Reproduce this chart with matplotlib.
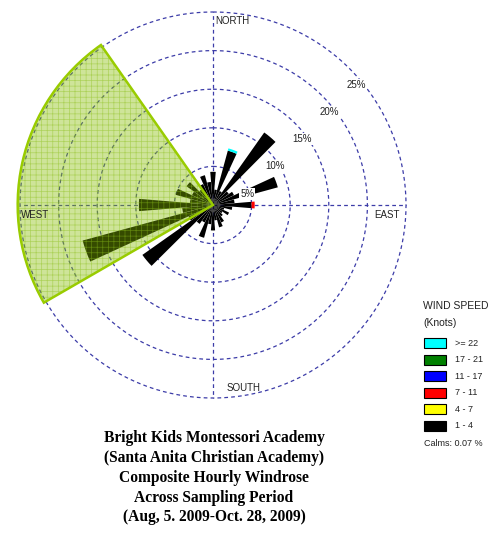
import numpy as np
import matplotlib.pyplot as plt
from matplotlib.patches import Rectangle
from matplotlib.transforms import offset_copy

# wind direction bins (degrees from north, clockwise)
directions = np.arange(0, 360, 10)

# frequency (%) per direction bin for each speed class
freq_1_4 = [4.3, 2.0, 7.3, 2.0, 11.5, 2.5, 3.0, 8.7, 2.8, 5.0,
            2.5, 1.5, 2.3, 1.5, 1.8, 2.5, 3.0, 2.0, 3.3, 2.5,
            4.4, 2.5, 3.0, 11.2, 3.5, 17.5, 4.0, 9.6, 3.0, 5.0,
            3.0, 4.2, 2.5, 3.0, 4.0, 3.0]
freq_4_7 = [0.0] * 36
freq_7_11 = [0.0] * 9 + [0.4] + [0.0] * 26
freq_11_17 = [0.0] * 36
freq_17_21 = [0.0] * 36
freq_22_up = [0.0, 0.0, 0.3] + [0.0] * 33

speed_labels = ['>= 22', '17 - 21', '11 - 17', '7 - 11', '4 - 7', '1 - 4']
speed_colors = ['#00ffff', '#008000', '#0000ff', '#ff0000', '#ffff00', '#000000']

ring_levels = [5, 10, 15, 20, 25]
ring_labels = ['5%', '10%', '15%', '20%', '25%']
compass = [(0, 'NORTH'), (90, 'EAST'), (180, 'SOUTH'), (270, 'WEST')]

# highlighted source sector
sector_from, sector_to, sector_reach = 240, 325, 25.3

calms = 0.07
title_lines = ['Bright Kids Montessori Academy',
               '(Santa Anita Christian Academy)',
               'Composite Hourly Windrose',
               'Across Sampling Period',
               '(Aug, 5. 2009-Oct. 28, 2009)']

W, H = 495, 540
fig = plt.figure(figsize=(W / 100, H / 100), dpi=100)
plt.rcParams['font.family'] = ['Liberation Sans', 'DejaVu Sans']


def px(x, y):
    return x / W, 1 - y / H


ax = fig.add_axes([20 / W, 142 / H, 386 / W, 386 / H], projection='polar')
ax.set_theta_zero_location('N')
ax.set_theta_direction(-1)
ax.set_ylim(0, 25)
ax.axis('off')

grid_color = '#3c3ca8'
dash = (0, (3, 2.5))
full = np.linspace(0, 2 * np.pi, 400)
for r in ring_levels:
    ax.plot(full, np.full_like(full, r), color=grid_color, lw=0.9, ls=dash,
            zorder=1, clip_on=False)
for ang, _ in compass:
    ax.plot([np.deg2rad(ang)] * 2, [0, ring_levels[-1]], color=grid_color,
            lw=0.9, ls=dash, zorder=1, clip_on=False)

# stacked petals, slowest class nearest the centre
theta = np.deg2rad(directions)
width = np.deg2rad(9.5)
stack = [freq_1_4, freq_4_7, freq_7_11, freq_11_17, freq_17_21, freq_22_up]
bottom = np.zeros(len(directions))
for vals, col in zip(stack, speed_colors[::-1]):
    vals = np.array(vals)
    ax.bar(theta, vals, width=width, bottom=bottom, color=col, lw=0, zorder=3)
    bottom += vals

# translucent sector with grid texture
mid = np.deg2rad((sector_from + sector_to) / 2)
span = np.deg2rad(sector_to - sector_from)
plt.rcParams['hatch.linewidth'] = 0.5
ax.bar(mid, sector_reach, width=span, bottom=0, color=(0.52, 0.74, 0.0, 0.4),
       lw=0, zorder=4, clip_on=False)
ax.bar(mid, sector_reach, width=span, bottom=0, facecolor='none',
       edgecolor=(0.55, 0.75, 0.1, 0.5), hatch='+++', lw=0, zorder=5, clip_on=False)
ax.bar(mid, sector_reach, width=span, bottom=0, fill=False,
       edgecolor='#99cc00', lw=1.8, zorder=6, clip_on=False)

# ring percentage labels on a white backing
for r, lab in zip(ring_levels, ring_labels):
    tr = offset_copy(ax.transData, fig=fig, x=7, y=-16, units='dots')
    ax.text(np.deg2rad(45), r, lab, transform=tr, ha='center', va='center',
            fontsize=7, color='#222222', zorder=7,
            bbox=dict(facecolor='white', edgecolor='none', pad=0.6))

# compass labels
label_offsets = {'NORTH': (2, -9, 'left'), 'EAST': (-6, -10, 'right'),
                 'SOUTH': (14, 10, 'left'), 'WEST': (1, -10, 'left')}
for ang, name in compass:
    dx, dy, ha = label_offsets[name]
    tr = offset_copy(ax.transData, fig=fig, x=dx, y=dy, units='dots')
    ax.text(np.deg2rad(ang), ring_levels[-1], name, transform=tr, ha=ha,
            va='center', fontsize=7, color='#222222', zorder=7)

# legend
fig.text(*px(423, 306), 'WIND SPEED', fontsize=7.5, va='center', color='#222222')
fig.text(*px(423, 323), '(Knots)', fontsize=7.5, va='center', color='#222222')
for i, (lab, col) in enumerate(zip(speed_labels, speed_colors)):
    y = 343 + i * 16.6
    x0, y0 = px(424, y + 5)
    fig.patches.append(Rectangle((x0, y0), 22 / W, 10 / H, transform=fig.transFigure,
                                 facecolor=col, edgecolor='black', lw=0.8))
    fig.text(*px(455, y), lab, fontsize=6.5, va='center', color='#222222')
fig.text(*px(424, 444), f'Calms: {calms:.2f} %', fontsize=6.5, va='center', color='#222222')

fig.text(*px(214, 430), '\n'.join(title_lines), ha='center', va='top',
         family='Liberation Serif', weight='bold', fontsize=11.2, linespacing=1.32)

fig.savefig('out.png', dpi=100)
